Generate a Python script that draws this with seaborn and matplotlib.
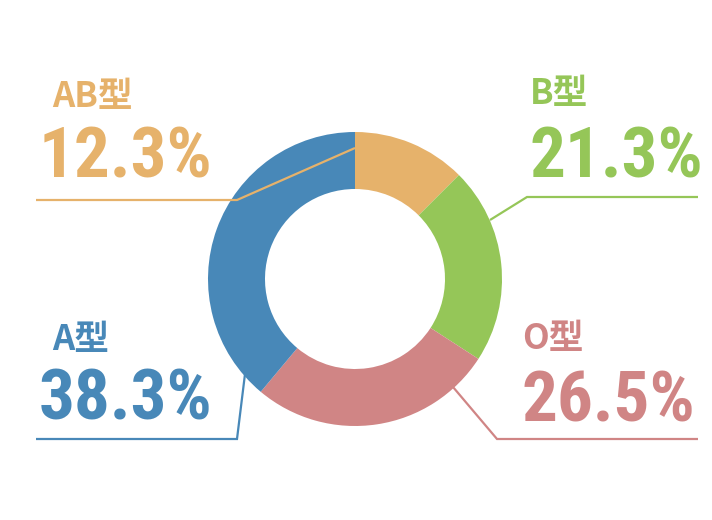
import matplotlib
matplotlib.use('Agg')
import matplotlib.pyplot as plt
import seaborn as sns
from matplotlib import font_manager as fm
from matplotlib.font_manager import FontProperties

# ---- data ----
types = ['AB型', 'B型', 'O型', 'A型']
shares = [12.3, 21.3, 26.5, 38.3]
value_labels = ['12.3%', '21.3%', '26.5%', '38.3%']
colors = ['#E6B26B', '#95C658', '#D08585', '#4888B8']

sns.set_theme(style='white')
plt.rcParams['font.family'] = ['Noto Sans CJK JP', 'DejaVu Sans']


def find_condensed_bold():
    prefs = ['roboto condensed', 'dejavu sans condensed', 'dejavu sans', 'liberation sans narrow',
             'open sans condensed', 'noto sans condensed']
    best = None
    best_rank = 99
    for f in fm.fontManager.ttflist:
        name = f.name.lower()
        stretch = str(f.stretch).lower()
        w = f.weight if isinstance(f.weight, int) else (700 if 'bold' in str(f.weight) else 400)
        cond = ('condensed' in name or 'narrow' in name or 'condensed' in stretch or 'narrow' in stretch
                or 'condensed' in f.fname.lower() or 'narrow' in f.fname.lower())
        if not cond or w < 600 or f.style != 'normal':
            continue
        rank = 50
        for i, p in enumerate(prefs):
            if name.startswith(p):
                rank = i
                break
        if rank < best_rank:
            best_rank = rank
            best = f.fname
    return best


fpath = find_condensed_bold()
if fpath:
    num_font = FontProperties(fname=fpath, size=51)
else:
    num_font = FontProperties(family='Roboto', weight='bold', size=46)

label_font = FontProperties(family=['Noto Sans CJK JP', 'DejaVu Sans'], weight='bold', size=25)

W, H = 712, 520
fig = plt.figure(figsize=(W / 100, H / 100), dpi=100)
fig.patch.set_facecolor('white')
ax = fig.add_axes([0, 0, 1, 1])

cx, cy, R, ring = 355, 279, 147, 57
ax.pie(shares, colors=colors, startangle=90, counterclock=False, radius=R,
       center=(cx, H - cy), wedgeprops=dict(width=ring, linewidth=0, antialiased=True))
ax.set_xlim(0, W)
ax.set_ylim(0, H)
ax.set_aspect('auto')
ax.axis('off')

# leader lines (pixel layout coordinates, y downwards)
leaders = [
    [(355, 148), (237, 200), (36, 200)],
    [(490, 220), (527, 197), (698, 197)],
    [(453, 387), (497, 439), (698, 439)],
    [(245, 374), (237, 439), (36, 439)],
]
for pts, c in zip(leaders, colors):
    xs = [p[0] for p in pts]
    ys = [H - p[1] for p in pts]
    ax.plot(xs, ys, color=c, lw=1.6, solid_capstyle='butt', solid_joinstyle='miter')

# label positions: (name_x, name_baseline, value_x, value_baseline)
label_pos = [
    (52, 107, 39, 178),
    (530, 104, 529, 177),
    (522, 349, 522, 421),
    (52, 350, 39, 420),
]
for t, v, c, (nx, ny, vx, vy) in zip(types, value_labels, colors, label_pos):
    ax.text(nx, H - ny, t, color=c, fontproperties=label_font, ha='left', va='baseline')
    ax.text(vx, H - vy, v, color=c, fontproperties=num_font, ha='left', va='baseline')

fig.savefig('out.png', dpi=100, facecolor='white')
